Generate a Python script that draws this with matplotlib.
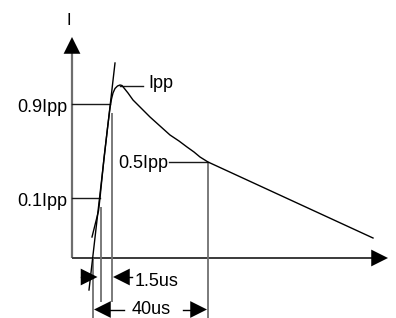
import matplotlib
matplotlib.use("Agg")
import matplotlib.pyplot as plt
from matplotlib.patches import FancyArrowPatch, ArrowStyle
import numpy as np

plt.rcParams['font.family'] = ['Liberation Sans', 'DejaVu Sans']

# ---- schematic data (diagram units: origin at axes crossing) ----
curve_t = [20, 26.5, 28, 32, 35.5, 38, 39.5, 41, 43, 45.5, 48, 50, 52, 56, 61, 70, 78, 88, 98, 107, 115, 122, 128, 136, 301]
curve_i = [21, 47, 60, 100, 130, 150, 159, 165, 169.5, 172, 173, 172.5, 170, 165, 158, 149, 141, 132, 123, 117, 111, 106, 101, 96, 20]

tangent_t = [17, 43]
tangent_i = [-32, 195]

level_labels = ['0.9Ipp', '0.1Ipp']
level_values = [154, 60]
level_ends = [38, 28]

peak_label = 'Ipp'
peak_value = 172
half_label = '0.5Ipp'
half_value = 96
half_time = 136

# vertical marker lines: (t, top, bottom)
vline_t = [21, 28.5, 40, 136]
vline_top = [0, 51, 145, 96]
vline_bottom = [-60, -44, -44, -60]

front_label = '1.5us'
tail_label = '40us'
axis_label = 'I'

x_axis_end = 316
y_axis_end = 221

fig = plt.figure(figsize=(3.96, 3.18), dpi=100)
ax = fig.add_axes([0, 0, 1, 1])
ax.set_xlim(-72, 324)
ax.set_ylim(-60, 258)
ax.axis('off')

FS = 13


def head(start, tip):
    st = ArrowStyle('-|>', head_length=12.07, head_width=6.04)
    p = FancyArrowPatch(start, tip, arrowstyle=st, mutation_scale=1,
                        lw=0, fc='black', ec='none', shrinkA=0, shrinkB=0,
                        zorder=5)
    ax.add_patch(p)


# axes
ax.plot([0, 0], [0, y_axis_end - 14], color='#6e6e6e', lw=1.6, solid_capstyle='butt')
head((0, 0), (0, y_axis_end))
ax.plot([0, x_axis_end - 14], [0, 0], color='#3a3a3a', lw=1.4, solid_capstyle='butt')
head((0, 0), (x_axis_end, 0))
ax.text(-3, 233, axis_label, fontsize=12, ha='center', va='baseline')

# vertical marker lines
for t, top, bot in zip(vline_t, vline_top, vline_bottom):
    ax.plot([t, t], [top, bot], color='#707070', lw=1.3, solid_capstyle='butt')

# level lines and labels
for lab, v, e in zip(level_labels, level_values, level_ends):
    ax.plot([0, e], [v, v], color='#1a1a1a', lw=1.0)
    ax.text(-5, v - 8, lab, fontsize=FS, ha='right', va='baseline')

ax.plot([48, 71], [peak_value, peak_value], color='#1a1a1a', lw=1.0)
ax.text(76, peak_value - 2.5, peak_label, fontsize=FS, ha='left', va='baseline')

ax.plot([97, half_time], [half_value, half_value], color='#1a1a1a', lw=1.0)
ax.text(46, half_value - 6, half_label, fontsize=FS, ha='left', va='baseline')

# tangent and waveform
ax.plot(tangent_t, tangent_i, color='black', lw=1.0)
ax.plot(curve_t, curve_i, color='black', lw=1.0)

# front-time dimension arrows
ax.plot([9, 14], [-19, -19], color='black', lw=1.0)
head((9, -19), (25.5, -19))
ax.plot([56, 60], [-19, -19], color='black', lw=1.0)
head((60, -19), (41, -19))
ax.text(63, -28, front_label, fontsize=FS, ha='left', va='baseline')

# tail-time dimension arrows
ax.plot([36, 52], [-51.5, -51.5], color='black', lw=1.0)
head((52, -51.5), (22, -51.5))
ax.plot([111, 122], [-51.5, -51.5], color='black', lw=1.0)
head((111, -51.5), (135, -51.5))
ax.text(60, -55.5, tail_label, fontsize=FS, ha='left', va='baseline')

fig.savefig('out.png', dpi=100)
